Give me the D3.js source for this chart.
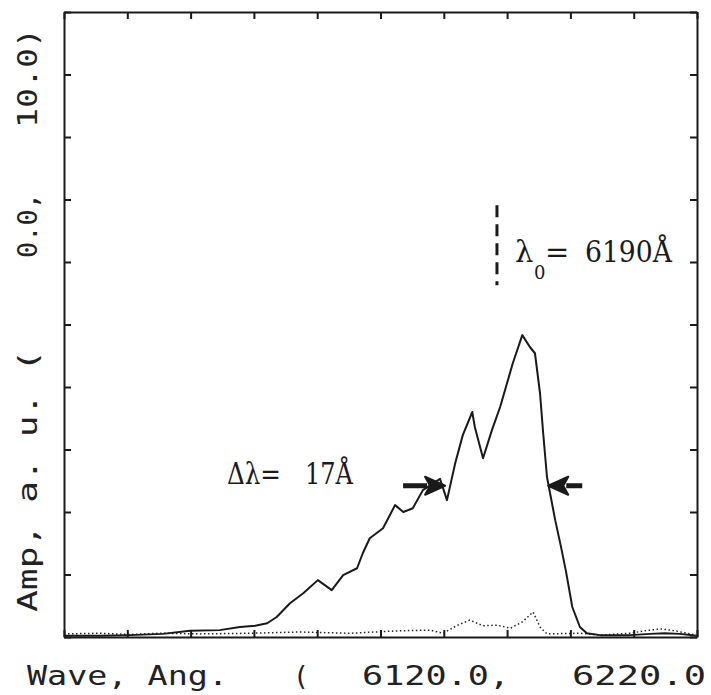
<!DOCTYPE html>
<html>
<head>
<meta charset="utf-8">
<script src="https://cdn.jsdelivr.net/npm/d3@7"></script>
<style>
  html, body { margin: 0; padding: 0; background: #fff; }
  svg { display: block; }
</style>
</head>
<body>
<svg id="chart" width="711" height="695"></svg>
<script>
// ---------- data ----------
const xDomain = [6120, 6220];          // Wave, Ang.
const yDomain = [0, 10];               // Amp, a. u.
const xTickValues = [6120, 6130, 6140, 6150, 6160, 6170, 6180, 6190, 6200, 6210, 6220];
const yTickValues = [0, 1, 2, 3, 4, 5, 6, 7, 8, 9, 10];

const solidWave = [6120.0, 6125.7, 6130.4, 6135.6, 6139.9, 6144.6, 6147.8, 6150.2, 6152.1, 6153.6,
  6155.7, 6157.8, 6160.1, 6162.3, 6164.1, 6166.3, 6167.2, 6168.3, 6170.4, 6172.3,
  6173.6, 6175.1, 6176.7, 6178.3, 6179.4, 6180.5, 6181.8, 6183.0, 6184.5, 6184.9,
  6186.2, 6187.6, 6188.9, 6190.9, 6192.4, 6193.6, 6194.4, 6195.2, 6195.7, 6196.3,
  6197.6, 6198.5, 6199.3, 6200.3, 6201.5, 6202.6, 6204.7, 6209.4, 6212.6, 6214.9,
  6217.3, 6220.0];
const solidAmp = [0.02, 0.02, 0.03, 0.05, 0.10, 0.11, 0.16, 0.18, 0.22, 0.32,
  0.54, 0.70, 0.91, 0.75, 0.99, 1.10, 1.34, 1.58, 1.74, 2.11,
  2.00, 2.06, 2.35, 2.46, 2.53, 2.19, 2.78, 3.23, 3.60, 3.36,
  2.86, 3.31, 3.68, 4.38, 4.83, 4.64, 4.54, 3.90, 3.26, 2.56,
  1.87, 1.45, 1.05, 0.48, 0.16, 0.06, 0.03, 0.03, 0.05, 0.06,
  0.05, 0.02];

const dottedWave = [6120.0, 6125.7, 6130.4, 6135.2, 6141.5, 6149.4, 6157.3, 6165.2, 6173.1, 6177.8,
  6179.9, 6182.2, 6184.1, 6186.2, 6188.4, 6190.5, 6192.4, 6194.1, 6195.2, 6196.3,
  6201.5, 6204.7, 6209.4, 6211.8, 6214.2, 6216.5, 6219.4];
const dottedAmp = [0.05, 0.06, 0.04, 0.06, 0.05, 0.06, 0.08, 0.06, 0.10, 0.11,
  0.06, 0.19, 0.27, 0.18, 0.19, 0.14, 0.24, 0.40, 0.16, 0.05,
  0.06, 0.03, 0.06, 0.10, 0.13, 0.10, 0.04];

// annotations
const lambda0Wave = 6188.4;            // dashed marker position
const lambda0AmpRange = [5.63, 6.91];
const lambda0Text = ["λ", "0", "=", "6190Å"];
const fwhmLeftWave = 6180.2;
const fwhmRightWave = 6196.5;
const fwhmAmp = 2.42;
const fwhmText = ["Δλ=", "17Å"];

// axis label texts
const yLabelParts = ["Amp, a. u. (", yDomain[0].toFixed(1) + ",", yDomain[1].toFixed(1) + ")"];
const xLabelParts = ["Wave, Ang.", "(", xDomain[0].toFixed(1) + ",", xDomain[1].toFixed(1)];

// ---------- drawing ----------
const svg = d3.select("#chart");
const L = 64, R = 697, T = 12, B = 637;

const x = d3.scaleLinear().domain(xDomain).range([L, R]);
const y = d3.scaleLinear().domain(yDomain).range([B, T]);

const ink = "#1a1a1a";

// axes with inward ticks on all four sides
function styleAxis(g) {
  g.selectAll("path.domain").attr("stroke", ink).attr("stroke-width", 2);
  g.selectAll(".tick line").attr("stroke", ink).attr("stroke-width", 2);
  g.selectAll(".tick text").remove();
}
svg.append("g").attr("transform", `translate(0,${B})`)
  .call(d3.axisBottom(x).tickValues(xTickValues).tickSizeInner(-7).tickSizeOuter(0).tickFormat(""))
  .call(styleAxis);
svg.append("g").attr("transform", `translate(0,${T})`)
  .call(d3.axisTop(x).tickValues(xTickValues).tickSizeInner(-7).tickSizeOuter(0).tickFormat(""))
  .call(styleAxis);
svg.append("g").attr("transform", `translate(${L},0)`)
  .call(d3.axisLeft(y).tickValues(yTickValues).tickSizeInner(-7).tickSizeOuter(0).tickFormat(""))
  .call(styleAxis);
svg.append("g").attr("transform", `translate(${R},0)`)
  .call(d3.axisRight(y).tickValues(yTickValues).tickSizeInner(-7).tickSizeOuter(0).tickFormat(""))
  .call(styleAxis);

// series
const dotted = dottedWave.map((w, i) => [w, dottedAmp[i]]);
const solid = solidWave.map((w, i) => [w, solidAmp[i]]);
const line = d3.line().x(d => x(d[0])).y(d => y(d[1]));

svg.append("path").datum(dotted)
  .attr("d", line)
  .attr("fill", "none")
  .attr("stroke", "#222")
  .attr("stroke-width", 1.5)
  .attr("stroke-dasharray", "1.5,2.5");

svg.append("path").datum(solid)
  .attr("d", line)
  .attr("fill", "none")
  .attr("stroke", ink)
  .attr("stroke-width", 2)
  .attr("stroke-linejoin", "round");

// lambda0 dashed marker
svg.append("line")
  .attr("x1", x(lambda0Wave)).attr("x2", x(lambda0Wave))
  .attr("y1", y(lambda0AmpRange[1])).attr("y2", y(lambda0AmpRange[0]))
  .attr("stroke", ink).attr("stroke-width", 3)
  .attr("stroke-dasharray", "12,7");

const serif = "'DejaVu Serif', 'Liberation Serif', serif";
const lx = x(lambda0Wave);
const ly = y(6.0);
svg.append("text").attr("x", lx + 18).attr("y", ly).text(lambda0Text[0])
  .attr("font-family", serif).attr("font-size", 29).attr("fill", ink);
svg.append("text").attr("x", lx + 37).attr("y", ly + 17).text(lambda0Text[1])
  .attr("font-family", serif).attr("font-size", 18).attr("fill", ink);
svg.append("text").attr("x", lx + 48).attr("y", ly).text(lambda0Text[2])
  .attr("font-family", serif).attr("font-size", 29).attr("fill", ink);
svg.append("text").attr("x", lx + 88).attr("y", ly).text(lambda0Text[3])
  .attr("font-family", serif).attr("font-size", 29).attr("fill", ink)
  .attr("textLength", 87).attr("lengthAdjust", "spacingAndGlyphs");

// FWHM arrows
const ay = y(fwhmAmp);
function arrow(tipX, dir, tailLen) {
  // dir = +1 points right, -1 points left
  const headLen = 20, headHalf = 9;
  svg.append("line")
    .attr("x1", tipX - dir * tailLen).attr("x2", tipX - dir * headLen + dir * 2)
    .attr("y1", ay).attr("y2", ay)
    .attr("stroke", ink).attr("stroke-width", 5);
  svg.append("path")
    .attr("d", `M${tipX},${ay} L${tipX - dir * headLen},${ay - headHalf} L${tipX - dir * (headLen - 5)},${ay} L${tipX - dir * headLen},${ay + headHalf} Z`)
    .attr("fill", ink).attr("stroke", ink).attr("stroke-width", 2).attr("stroke-linejoin", "round");
}
arrow(x(fwhmLeftWave), 1, 42);
arrow(x(fwhmRightWave), -1, 34);

svg.append("text").attr("x", 227).attr("y", ay - 2).text(fwhmText[0])
  .attr("font-family", serif).attr("font-size", 29).attr("fill", ink)
  .attr("textLength", 54).attr("lengthAdjust", "spacingAndGlyphs");
svg.append("text").attr("x", 305).attr("y", ay - 2).text(fwhmText[1])
  .attr("font-family", serif).attr("font-size", 29).attr("fill", ink)
  .attr("textLength", 48).attr("lengthAdjust", "spacingAndGlyphs");

// axis labels (plotter style)
const mono = "'DejaVu Sans Mono', 'Liberation Mono', monospace";
const labelColor = "#222";
function xPiece(txt, x0, len) {
  svg.append("text").attr("x", x0).attr("y", 685).text(txt)
    .attr("font-family", mono).attr("font-size", 27).attr("fill", labelColor)
    .attr("textLength", len).attr("lengthAdjust", "spacingAndGlyphs");
}
xPiece(xLabelParts[0], 27, 201);
xPiece(xLabelParts[1], 293, 16);
xPiece(xLabelParts[2], 362, 148);
xPiece(xLabelParts[3], 572, 134);

function yPiece(txt, y0, len) {
  svg.append("text")
    .attr("transform", `translate(37,${y0}) rotate(-90)`)
    .text(txt)
    .attr("font-family", mono).attr("font-size", 27).attr("fill", labelColor)
    .attr("textLength", len).attr("lengthAdjust", "spacingAndGlyphs");
}
yPiece(yLabelParts[0], 612, 262);
yPiece(yLabelParts[1], 258, 65);
yPiece(yLabelParts[2], 128, 100);
</script>
</body>
</html>
